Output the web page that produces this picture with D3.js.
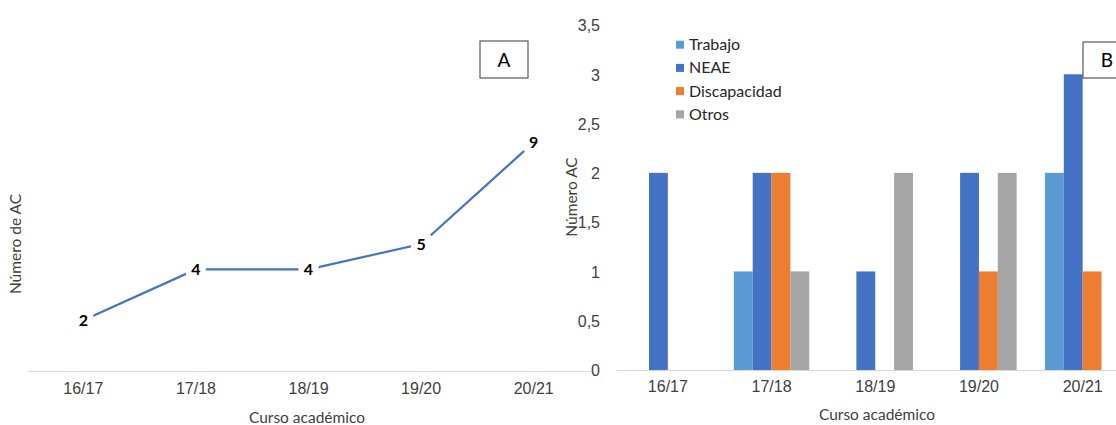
<!DOCTYPE html>
<html lang="es">
<head>
<meta charset="utf-8">
<script src="https://cdn.jsdelivr.net/npm/d3@7/dist/d3.min.js"></script>
<style>
  html, body { margin: 0; padding: 0; background: #fff; }
  svg { display: block; font-family: Lato, "Open Sans", sans-serif; }
  .axis text { fill: #404040; font-size: 16px; }
  .title { fill: #404040; font-size: 15.5px; }
</style>
</head>
<body>
<svg id="chart" width="1116" height="425"></svg>
<script>
// Cursos académicos
const cursos = ["16/17", "17/18", "18/19", "19/20", "20/21"];

// Panel A: número total de AC por curso
const totalAC = [2, 4, 4, 5, 9];

// Panel B: número de AC por motivo
const series = ["Trabajo", "NEAE", "Discapacidad", "Otros"];
const trabajo = [0, 1, 0, 0, 2];
const neae = [2, 2, 1, 2, 3];
const discapacidad = [0, 2, 0, 1, 1];
const otros = [0, 1, 2, 2, 0];
const yTicksB = [0, 0.5, 1, 1.5, 2, 2.5, 3, 3.5];

const colores = ["#5B9BD5", "#4472C4", "#ED7D31", "#A5A5A5"];
const valoresB = [trabajo, neae, discapacidad, otros];

const svg = d3.select("#chart");
const esLocale = d3.formatLocale({ decimal: ",", thousands: ".", grouping: [3], currency: ["", "€"] });
const fmt = esLocale.format("~g");

/* ---------------- Panel A: línea ---------------- */
const xA = d3.scaleBand().domain(cursos).range([27, 590]).padding(0);
const yA = d3.scaleLinear().domain([0, 10]).range([371, 117]);
const gA = svg.append("g");

// eje horizontal
gA.append("g")
  .attr("class", "axis")
  .attr("transform", "translate(0,371)")
  .call(d3.axisBottom(xA).tickSize(0).tickPadding(12))
  .call(g => g.select(".domain").attr("stroke", "#D9D9D9").attr("stroke-width", 1.2))
  .call(g => g.selectAll("text").attr("dy", "0.71em"));

const puntosA = cursos.map((c, i) => ({ x: xA(c) + xA.bandwidth() / 2, y: yA(totalAC[i]), v: totalAC[i] }));

gA.append("path")
  .datum(puntosA)
  .attr("fill", "none")
  .attr("stroke", "#4472C4")
  .attr("stroke-width", 2.2)
  .attr("d", d3.line().x(d => d.x).y(d => d.y));

const etiquetasA = gA.selectAll(".lbl").data(puntosA).join("g").attr("class", "lbl");
etiquetasA.append("rect")
  .attr("x", d => d.x - 10).attr("y", d => d.y - 9)
  .attr("width", 20).attr("height", 18)
  .attr("fill", "#fff");
etiquetasA.append("text")
  .attr("x", d => d.x).attr("y", d => d.y + 6)
  .attr("text-anchor", "middle")
  .attr("font-weight", "bold")
  .attr("font-size", 16)
  .attr("fill", "#000")
  .text(d => d.v);

gA.append("text")
  .attr("class", "title")
  .attr("text-anchor", "middle")
  .attr("transform", "translate(21,244) rotate(-90)")
  .text("Número de AC");
gA.append("text")
  .attr("class", "title")
  .attr("text-anchor", "middle")
  .attr("x", 307).attr("y", 423)
  .text("Curso académico");

gA.append("rect")
  .attr("x", 480).attr("y", 41).attr("width", 48).attr("height", 37)
  .attr("fill", "#fff").attr("stroke", "#595959").attr("stroke-width", 1.2);
gA.append("text")
  .attr("x", 504).attr("y", 66.5).attr("text-anchor", "middle")
  .attr("font-size", 19).attr("fill", "#000")
  .text("A");

/* ---------------- Panel B: barras agrupadas ---------------- */
const xB = d3.scaleBand().domain(cursos).range([616, 1134.5]).padding(0);
const grupo = xB.bandwidth() * 4 / 5.5;
const xSerie = d3.scaleBand().domain(series).range([0, grupo]).padding(0);
const yB = d3.scaleLinear().domain([0, 3.5]).range([370, 25]);
const gB = svg.append("g");

gB.append("g")
  .attr("class", "axis")
  .attr("transform", "translate(600,0)")
  .call(d3.axisLeft(yB).tickValues(yTicksB).tickFormat(fmt).tickSize(0).tickPadding(0))
  .call(g => g.select(".domain").remove())
  .call(g => g.selectAll("text").attr("dy", "0.36em"));

gB.append("g")
  .attr("class", "axis")
  .attr("transform", "translate(0,370)")
  .call(d3.axisBottom(xB).tickSize(0).tickPadding(11))
  .call(g => g.select(".domain").attr("stroke", "#D9D9D9").attr("stroke-width", 1.2))
  .call(g => g.selectAll("text").attr("dy", "0.71em"));

const barras = [];
series.forEach((s, si) => {
  cursos.forEach((c, ci) => {
    barras.push({ serie: s, si, curso: c, v: valoresB[si][ci] });
  });
});

gB.selectAll(".bar").data(barras.filter(d => d.v > 0)).join("rect")
  .attr("class", "bar")
  .attr("x", d => xB(d.curso) + (xB.bandwidth() - grupo) / 2 + xSerie(d.serie))
  .attr("width", xSerie.bandwidth())
  .attr("y", d => yB(d.v))
  .attr("height", d => yB(0) - yB(d.v))
  .attr("fill", d => colores[d.si]);

gB.append("text")
  .attr("class", "title")
  .attr("text-anchor", "middle")
  .attr("transform", "translate(577,197) rotate(-90)")
  .text("Número AC");
gB.append("text")
  .attr("class", "title")
  .attr("text-anchor", "middle")
  .attr("x", 877).attr("y", 420)
  .text("Curso académico");

// leyenda
const leyenda = gB.selectAll(".ley").data(series).join("g")
  .attr("class", "ley")
  .attr("transform", (d, i) => `translate(676,${44.7 + i * 23.2})`);
leyenda.append("rect")
  .attr("x", 0).attr("y", -4).attr("width", 8).attr("height", 8)
  .attr("fill", (d, i) => colores[i]);
leyenda.append("text")
  .attr("x", 13).attr("y", 5.5)
  .attr("font-size", 16).attr("fill", "#262626")
  .text(d => d);

gB.append("rect")
  .attr("x", 1083).attr("y", 42).attr("width", 48).attr("height", 36)
  .attr("fill", "#fff").attr("stroke", "#595959").attr("stroke-width", 1.2);
gB.append("text")
  .attr("x", 1107).attr("y", 67).attr("text-anchor", "middle")
  .attr("font-size", 19).attr("fill", "#000")
  .text("B");
</script>
</body>
</html>
